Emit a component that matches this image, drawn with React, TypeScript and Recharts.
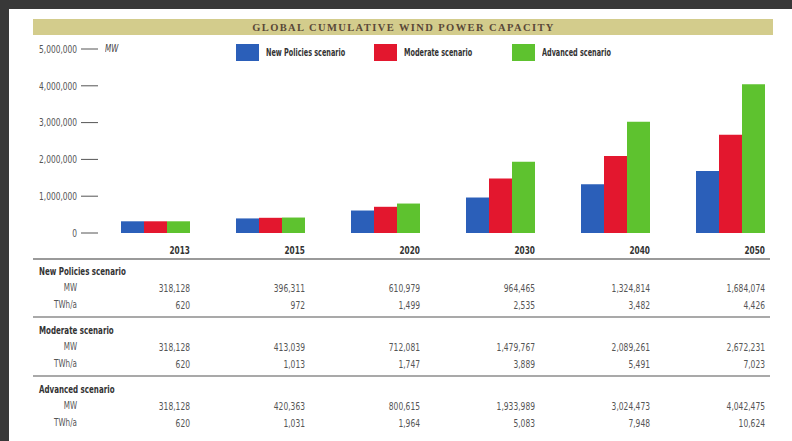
import React from 'react';
import { BarChart, Bar, XAxis, YAxis, Legend } from 'recharts';

const title = 'GLOBAL CUMULATIVE WIND POWER CAPACITY';
const unitLabel = 'MW';
const years = ['2013', '2015', '2020', '2030', '2040', '2050'];
const seriesNames = ['New Policies scenario', 'Moderate scenario', 'Advanced scenario'];
const seriesKeys = ['np', 'mod', 'adv'];
const colors = ['#2b5fb9', '#e3172e', '#5ec22f'];
const newPoliciesMW = [318128, 396311, 610979, 964465, 1324814, 1684074];
const moderateMW = [318128, 413039, 712081, 1479767, 2089261, 2672231];
const advancedMW = [318128, 420363, 800615, 1933989, 3024473, 4042475];
const newPoliciesTWh = [620, 972, 1499, 2535, 3482, 4426];
const moderateTWh = [620, 1013, 1747, 3889, 5491, 7023];
const advancedTWh = [620, 1031, 1964, 5083, 7948, 10624];
const yTicks = [0, 1000000, 2000000, 3000000, 4000000, 5000000];
const rowLabels = ['MW', 'TWh/a'];

const data = years.map((year, i) => ({
  year,
  np: newPoliciesMW[i],
  mod: moderateMW[i],
  adv: advancedMW[i],
}));

const sections = [
  { name: seriesNames[0], mw: newPoliciesMW, twh: newPoliciesTWh },
  { name: seriesNames[1], mw: moderateMW, twh: moderateTWh },
  { name: seriesNames[2], mw: advancedMW, twh: advancedTWh },
];

const W = 792;
const H = 441;
const CHART_H = 258;
const Y_AXIS_W = 98;
const MARGIN_R = 4;
const BAR_SIZE = 23;
const BAND = (W - MARGIN_R - Y_AXIS_W) / years.length;
const NARROW = '"DejaVu Sans Condensed", "Liberation Sans Narrow", "Liberation Sans", sans-serif';

const fmt = (v: number) => v.toLocaleString('en-US');

type CTextProps = {
  x: number;
  y: number;
  children: React.ReactNode;
  size: number;
  sx: number;
  anchor?: 'start' | 'middle' | 'end';
  bold?: boolean;
  italic?: boolean;
  fill?: string;
  dy?: number;
  central?: boolean;
};

const CText = ({ x, y, children, size, sx, anchor = 'start', bold, italic, fill = '#555', dy = 0, central }: CTextProps) => (
  <text
    transform={`translate(${x},${y}) scale(${sx},1)`}
    x={0}
    y={0}
    dy={dy}
    textAnchor={anchor}
    dominantBaseline={central ? 'central' : undefined}
    fontFamily={NARROW}
    fontStretch="condensed"
    fontWeight={bold ? 'bold' : 'normal'}
    fontStyle={italic ? 'italic' : 'normal'}
    fontSize={size}
    fill={fill}
  >
    {children}
  </text>
);

const XTick = (props: any) => {
  const { x, y, payload } = props;
  return (
    <CText x={x + BAR_SIZE * 1.5} y={y} dy={21} anchor="end" size={10} sx={0.82} bold fill="#333">
      {payload.value}
    </CText>
  );
};

const YTick = (props: any) => {
  const { x, y, payload } = props;
  return (
    <CText x={x} y={y} anchor="end" size={10} sx={0.83} central fill="#555">
      {fmt(payload.value)}
    </CText>
  );
};

const LegendContent = () => (
  <div style={{ display: 'flex', flexDirection: 'row' }}>
    {seriesNames.map((name, i) => (
      <div key={name} style={{ width: 138, display: 'flex', alignItems: 'center' }}>
        <div style={{ width: 23, height: 17, background: colors[i], flex: 'none' }} />
        <span
          style={{
            marginLeft: 7,
            fontFamily: NARROW,
            fontStretch: 'condensed',
            fontWeight: 'bold',
            fontSize: 10,
            color: '#333',
            whiteSpace: 'nowrap',
            display: 'inline-block',
            transform: 'scaleX(0.72)',
            transformOrigin: 'left center',
          }}
        >
          {name}
        </span>
      </div>
    ))}
  </div>
);

export default function App() {
  const colRight = (i: number) => Y_AXIS_W + BAND * (i + 0.5) + BAR_SIZE * 1.5;
  return (
    <div
      style={{
        position: 'absolute',
        left: 0,
        top: 0,
        width: W,
        height: H,
        background: '#ffffff',
        overflow: 'hidden',
      }}
    >
      <div style={{ position: 'absolute', left: 0, top: 0, width: W, height: 9, background: '#383838' }} />
      <div style={{ position: 'absolute', left: 0, top: 0, width: 9, height: H, background: '#383838' }} />
      <div
        style={{
          position: 'absolute',
          left: 33,
          top: 19,
          width: 739,
          height: 16,
          background: '#d3cc8c',
          display: 'flex',
          alignItems: 'center',
          justifyContent: 'center',
          fontFamily: '"Liberation Serif", "DejaVu Serif", serif',
          fontWeight: 'bold',
          fontSize: 10.5,
          letterSpacing: 1.4,
          color: '#5a4838',
          paddingLeft: 1,
        }}
      >
        {title}
      </div>
      <div
        style={{
          position: 'absolute',
          left: 105,
          top: 43,
          fontFamily: NARROW,
          fontStretch: 'condensed',
          fontStyle: 'italic',
          fontSize: 10,
          color: '#444',
          lineHeight: '12px',
          transform: 'scaleX(0.8)',
          transformOrigin: 'left center',
        }}
      >
        {unitLabel}
      </div>
      <div style={{ position: 'absolute', left: 0, top: 0 }}>
        <BarChart
          width={W}
          height={CHART_H}
          data={data}
          margin={{ top: 49, right: MARGIN_R, left: 0, bottom: 0 }}
          barGap={0}
        >
          <XAxis
            dataKey="year"
            axisLine={false}
            tickLine={false}
            tickSize={0}
            tickMargin={0}
            height={CHART_H - 49 - 184}
            interval={0}
            tick={<XTick />}
          />
          <YAxis
            width={Y_AXIS_W}
            domain={[0, 5000000]}
            ticks={yTicks}
            interval={0}
            axisLine={false}
            tickSize={17}
            tickMargin={4}
            tickLine={{ stroke: '#555', strokeWidth: 1 }}
            tick={<YTick />}
          />
          <Legend
            layout="horizontal"
            verticalAlign="middle"
            align="center"
            wrapperStyle={{ top: 44, left: 236, width: 420, height: 17 }}
            content={<LegendContent />}
          />
          {seriesKeys.map((k, i) => (
            <Bar
              key={k}
              dataKey={k}
              name={seriesNames[i]}
              fill={colors[i]}
              barSize={BAR_SIZE}
              isAnimationActive={false}
            />
          ))}
        </BarChart>
      </div>
      <svg width={W} height={H} style={{ position: 'absolute', left: 0, top: 0, pointerEvents: 'none' }}>
        <line x1={33} x2={770} y1={259} y2={259} stroke="#9a9a9a" strokeWidth={2} />
        {sections.map((s, si) => {
          const y0 = 272 + 59 * si;
          return (
            <g key={si}>
              {si > 0 && (
                <line x1={33} x2={770} y1={y0 - 14} y2={y0 - 14} stroke="#8c8c8c" strokeWidth={1.5} />
              )}
              <CText x={39} y={y0} size={10} sx={0.79} bold central fill="#333">
                {s.name}
              </CText>
              {[s.mw, s.twh].map((vals, ri) => (
                <g key={ri}>
                  <CText x={77} y={y0 + 16 + ri * 17} anchor="end" size={10} sx={0.8} central fill="#555">
                    {rowLabels[ri]}
                  </CText>
                  {vals.map((v, ci) => (
                    <CText
                      key={ci}
                      x={colRight(ci)}
                      y={y0 + 16 + ri * 17}
                      anchor="end"
                      size={10.5}
                      sx={0.8}
                      central
                      fill="#555"
                    >
                      {fmt(v)}
                    </CText>
                  ))}
                </g>
              ))}
            </g>
          );
        })}
      </svg>
    </div>
  );
}
